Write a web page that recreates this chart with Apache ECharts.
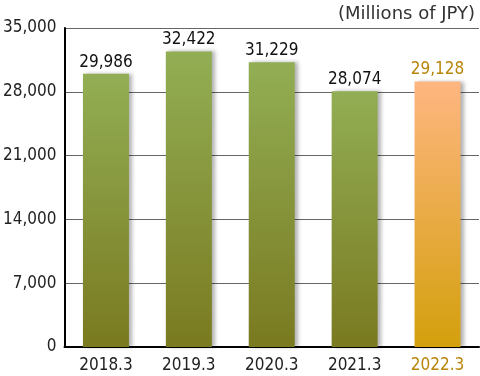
<!DOCTYPE html>
<html>
<head>
<meta charset="utf-8">
<script src="https://cdn.jsdelivr.net/npm/echarts@6/dist/echarts.min.js"></script>
<style>
  html, body { margin: 0; padding: 0; background: #fff; }
  #chart { width: 480px; height: 376px; }
</style>
</head>
<body>
<div id="chart"></div>
<script>
  var categories = ['2018.3', '2019.3', '2020.3', '2021.3', '2022.3'];
  var values = [29986, 32422, 31229, 28074, 29128];
  var yTicks = [0, 7000, 14000, 21000, 28000, 35000];
  var unitLabel = '(Millions of JPY)';

  var font = '"DejaVu Sans Condensed", "Liberation Sans", sans-serif';
  var highlight = categories.length - 1;

  var greenFill = new echarts.graphic.LinearGradient(0, 0, 0, 1, [
    { offset: 0, color: '#92ae54' },
    { offset: 1, color: '#7a7a20' }
  ]);
  var orangeFill = new echarts.graphic.LinearGradient(0, 0, 0, 1, [
    { offset: 0, color: '#ffb680' },
    { offset: 1, color: '#d3a00c' }
  ]);

  var chart = echarts.init(document.getElementById('chart'));
  chart.setOption({
    animation: false,
    title: {
      text: unitLabel,
      right: 0,
      top: 0,
      textStyle: { fontFamily: '"DejaVu Sans", sans-serif', fontSize: 18, fontWeight: 'normal', color: '#333' }
    },
    grid: { left: 64, right: 1, top: 28, bottom: 29 },
    xAxis: {
      type: 'category',
      data: categories,
      axisLine: { lineStyle: { color: '#000', width: 2 } },
      axisTick: { show: false },
      axisLabel: {
        fontFamily: font,
        fontSize: 17,
        margin: 10,
        color: function (v, i) { return i === highlight ? '#b8860b' : '#222'; }
      }
    },
    yAxis: {
      type: 'value',
      min: yTicks[0],
      max: yTicks[yTicks.length - 1],
      interval: yTicks[1] - yTicks[0],
      axisLine: { show: true, lineStyle: { color: '#000', width: 2 } },
      axisTick: { show: false },
      splitLine: { lineStyle: { color: '#666', width: 1 } },
      axisLabel: {
        fontFamily: font,
        fontSize: 17,
        color: '#222',
        margin: 8,
        formatter: function (v) { return v.toLocaleString('en-US'); }
      }
    },
    series: [{
      type: 'bar',
      barWidth: 46,
      data: values.map(function (v, i) {
        return {
          value: v,
          itemStyle: { color: i === highlight ? orangeFill : greenFill },
          label: { color: i === highlight ? '#b8860b' : '#111' }
        };
      }),
      itemStyle: {
        shadowColor: 'rgba(0,0,0,0.3)',
        shadowBlur: 4,
        shadowOffsetX: 3,
        shadowOffsetY: 0
      },
      label: {
        show: true,
        position: 'top',
        distance: 3,
        fontFamily: font,
        fontSize: 17,
        formatter: function (p) { return p.value.toLocaleString('en-US'); }
      }
    }]
  });
</script>
</body>
</html>
